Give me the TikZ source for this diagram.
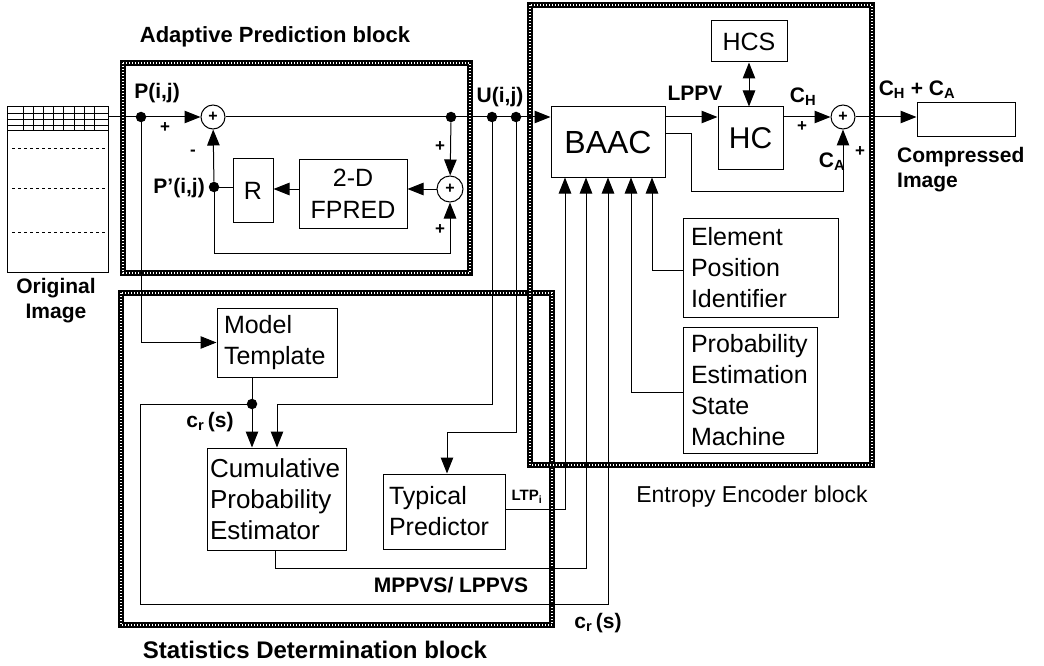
\documentclass[tikz,border=0pt]{standalone}
\usepackage{fontspec}
\setmainfont{Liberation Sans}
\usetikzlibrary{arrows.meta,calc}
\begin{document}
\begin{tikzpicture}[x=1pt,y=-1pt,
  wire/.style={line width=1pt},
  arr/.style={wire,-{Triangle[length=16pt,width=12.5pt]}},
  dbl/.style={wire,{Triangle[length=16pt,width=12.5pt]}-{Triangle[length=16pt,width=12.5pt]}},
  blk/.style={draw, line width=1pt, inner sep=0pt, font=\fontsize{25}{31}\selectfont},
  tbox/.style={blk, align=left, inner xsep=7pt},
  sumc/.style={draw, circle, line width=1pt, inner sep=0pt, font=\fontsize{16}{16}\selectfont\bfseries},
  dot/.style={circle, fill, inner sep=0pt, minimum size=10.5pt},
  lbl/.style={font=\fontsize{21}{25}\selectfont\bfseries, inner sep=0pt},
  sml/.style={font=\fontsize{17}{17}\selectfont\bfseries, inner sep=0pt},
  border/.style={line width=5.5pt, postaction={draw=white, line width=1.6pt, dash pattern=on 1pt off 2pt}},
]
\useasboundingbox (0,0) rectangle (1044,666);

% block borders
\draw[border] (123,63) rectangle (470,273);
\draw[border] (121,293) rectangle (552,625);
\draw[border] (530,5) rectangle (872,465);

% original image
\node[blk, minimum width=101pt, minimum height=165pt] (orig) at (57.5,189.5) {};
\foreach \x in {0,...,7} \draw[line width=0.7pt] ({23+10.2*\x},107) -- ({23+10.2*\x},130);
\foreach \y in {113,119,125,130} \draw[line width=0.7pt] (7,\y) -- (108,\y);
\foreach \y in {148,188,232} \draw[line width=0.7pt, dashed] (12,\y) -- (105,\y);

% boxes
\node[blk, minimum width=40pt, minimum height=63pt] (R) at (253,190.5) {R};
\node[blk, minimum width=108pt, minimum height=68pt, align=center, font=\fontsize{25}{32}\selectfont] (fpred) at (353,194) {2-D\\FPRED};
\node[blk, minimum width=114pt, minimum height=70pt, font=\fontsize{32}{32}\selectfont] (baac) at (608,142) {BAAC};
\node[blk, minimum width=76pt, minimum height=41pt] (hcs) at (749,41.5) {HCS};
\node[blk, minimum width=65pt, minimum height=62pt, font=\fontsize{30}{30}\selectfont] (hc) at (750.5,138) {HC};
\node[blk, minimum width=98pt, minimum height=34pt] (out) at (966,120) {};
\node[tbox, inner xsep=8pt, text width=139pt, minimum height=99pt] (epi) at (760.5,267.5) {Element\\Position\\Identifier};
\node[tbox, inner xsep=8pt, text width=118pt, minimum height=126pt] (pesm) at (750,390) {Probability\\Estimation\\State\\Machine};
\node[tbox, text width=106pt, minimum height=69pt] (mt) at (277,342.5) {Model\\Template};
\node[tbox, inner xsep=3pt, text width=133pt, minimum height=102pt, font=\fontsize{26}{31}\selectfont] (cpe) at (276.5,499) {Cumulative\\Probability\\Estimator};
\node[tbox, inner xsep=6pt, text width=110pt, minimum height=75pt] (tp) at (444,511.5) {Typical\\Predictor};

% summing junctions
\node[sumc, minimum size=24pt] (s1) at (213,117) {+};
\node[sumc, minimum size=26pt] (s2) at (450,189) {+};
\node[sumc, minimum size=24pt] (s3) at (843,117) {+};

% dots
\node[dot] (pd) at (141,117) {};
\node[dot] (ppd) at (214,187) {};
\node[dot] (ud0) at (451,117) {};
\node[dot] (u1) at (492,117) {};
\node[dot] (u2) at (516,117) {};
\node[dot] (crd) at (252,404) {};

% coordinates
\coordinate (fb) at (214,253);
\coordinate (c1) at (140,404);
\coordinate (c2) at (140,604);
\coordinate (c3) at (608,604);
\coordinate (cx) at (277,404);
\coordinate (tx) at (447,432);
\coordinate (m1) at (275,568);
\coordinate (m2) at (586,568);
\coordinate (l1) at (565,509);
\coordinate (p1) at (631,392);
\coordinate (e1) at (652,270);
\coordinate (a1) at (691,134);
\coordinate (a2) at (691,191);

% adaptive prediction wiring
\draw[wire] (orig.east |- pd) -- (pd);
\draw[arr] (pd) -- (s1);
\draw[wire] (s1) -- (u2);
\draw[arr] (u2) -- (baac.west |- u2);
\draw[arr] (ud0) -- (s2);
\draw[arr] (s2.west) -- (fpred.east |- s2.west);
\draw[arr] (fpred.west |- s2.west) -- (R.east |- s2.west);
\draw[wire] (R.west |- ppd) -- (ppd);
\draw[arr] (ppd) -- (s1);
\draw[arr] (ppd) -- (fb) -| (s2.south);

% statistics wiring
\draw[arr] (pd) |- (mt.west);
\draw[wire] (crd |- mt.south) -- (crd);
\draw[arr] (crd) -- (crd |- cpe.north);
\draw[arr] (crd) -- (c1) -- (c2) -- (c3) -- (c3 |- baac.south);
\draw[arr] (u1) |- (cx) -- (cx |- cpe.north);
\draw[arr] (u2) |- (tx) -- (tx |- tp.north);
\draw[arr] (m1 |- cpe.south) -- (m1) -- (m2) -- (m2 |- baac.south);
\draw[arr] (tp.east |- l1) -- (l1) -- (l1 |- baac.south);

% entropy wiring
\draw[arr] (pesm.west |- p1) -- (p1) -- (p1 |- baac.south);
\draw[arr] (epi.west |- e1) -- (e1) -- (e1 |- baac.south);
\draw[arr] (baac.east |- s3) -- (hc.west |- s3);
\draw[arr] (hc.east |- s3) -- (s3);
\draw[dbl] (hcs.south) -- (hcs.south |- hc.north);
\draw[arr] (baac.east |- a1) -- (a1) -- (a2) -| (s3.south);
\draw[arr] (s3) -- (out.west |- s3);

% labels
\node[lbl] at (157,93) {P(i,j)};
\node[lbl, anchor=east] at (205,188) {P'(i,j)};
\node[lbl] at (500,97) {U(i,j)};
\node[lbl] at (695,93) {LPPV};
\node[lbl] at (803,97) {C\textsubscript{H}};
\node[lbl] at (917,90) {C\textsubscript{H} + C\textsubscript{A}};
\node[lbl] at (832,162) {C\textsubscript{A}};
\node[lbl, anchor=west, align=left] at (897,170) {Compressed\\Image};
\node[lbl, align=center] at (56,301) {Original\\Image};
\node[lbl] at (210,422) {c\textsubscript{r}\,(s)};
\node[lbl] at (598,623) {c\textsubscript{r}\,(s)};
\node[lbl] at (451,585) {MPPVS/ LPPVS};
\node[font=\fontsize{15}{15}\selectfont\bfseries, inner sep=0pt] at (527,497) {LTP\textsubscript{i}};
\node[sml] at (165,128) {+};
\node[sml] at (193,153) {-};
\node[sml] at (440,147) {+};
\node[sml] at (440,230) {+};
\node[sml] at (802,127) {+};
\node[sml] at (860,152) {+};

% titles
\node[font=\fontsize{22}{22}\selectfont\bfseries] at (275,37) {Adaptive Prediction block};
\node[font=\fontsize{24}{24}\selectfont\bfseries] at (315,650) {Statistics Determination block};
\node[font=\fontsize{23}{23}\selectfont] at (752,497) {Entropy Encoder block};
\end{tikzpicture}
\end{document}
